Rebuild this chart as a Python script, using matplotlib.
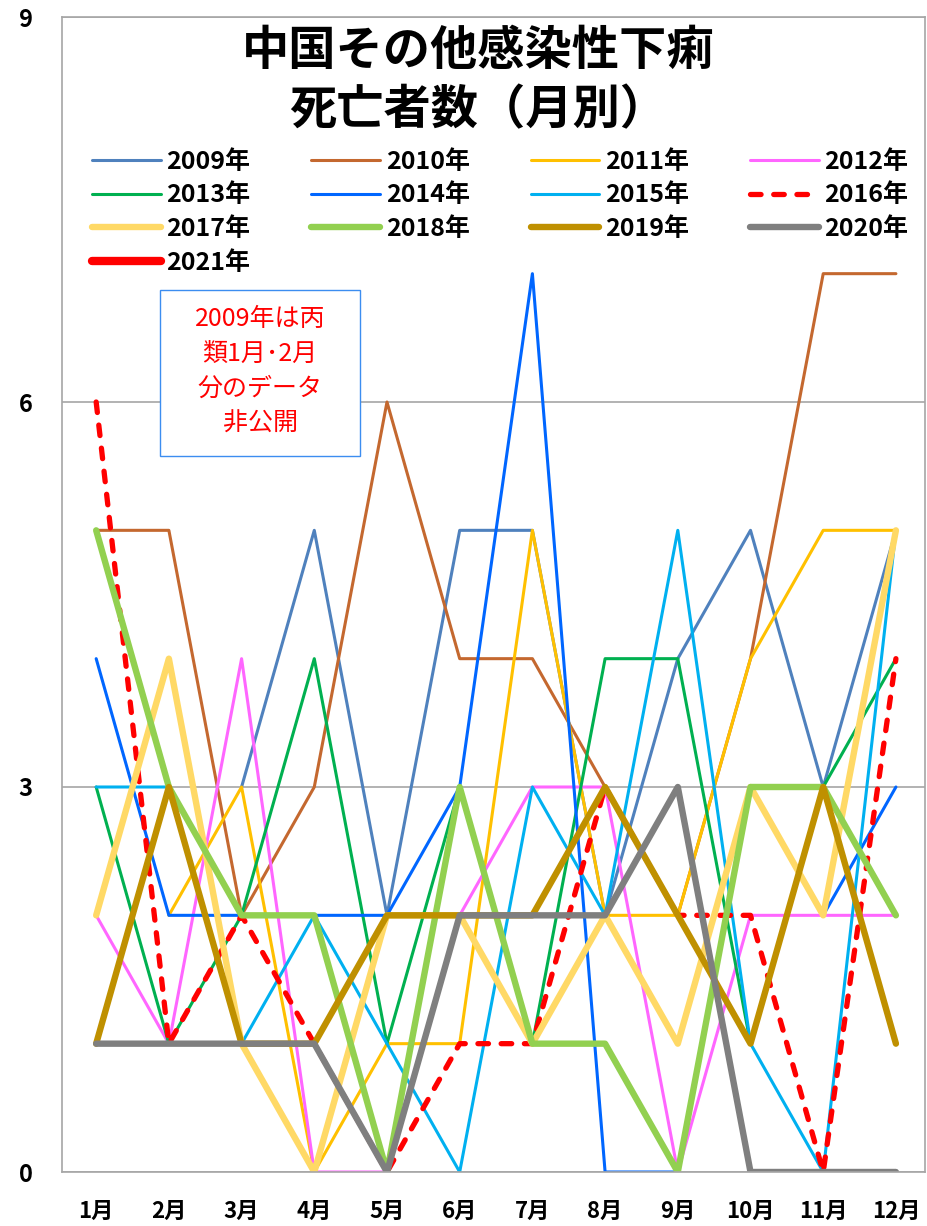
import numpy as np
import matplotlib
matplotlib.use("Agg")
import matplotlib.pyplot as plt
from matplotlib.patches import Rectangle

plt.rcParams['font.family'] = ['Noto Sans CJK JP', 'DejaVu Sans']

nan = np.nan
months = ['1月', '2月', '3月', '4月', '5月', '6月', '7月', '8月', '9月', '10月', '11月', '12月']

d2009 = [nan, nan, 3, 5, 2, 5, 5, 2, 4, 5, 3, 5]
d2010 = [5, 5, 2, 3, 6, 4, 4, 3, 2, 4, 7, 7]
d2011 = [nan, 2, 3, 0, 1, 1, 5, 2, 2, 4, 5, 5]
d2012 = [2, 1, 4, 0, 0, 2, 3, 3, 0, 2, 2, 2]
d2013 = [3, 1, 2, 4, 1, 3, 1, 4, 4, 1, 3, 4]
d2014 = [4, 2, 2, 2, 2, 3, 7, 0, 0, nan, 2, 3]
d2015 = [3, 3, 1, 2, 1, 0, 3, 2, 5, 1, 0, 5]
d2016 = [6, 1, 2, 1, 0, 1, 1, 3, 2, 2, 0, 4]
d2017 = [2, 4, 1, 0, 2, 2, 1, 2, 1, 3, 2, 5]
d2018 = [5, 3, 2, 2, 0, 3, 1, 1, 0, 3, 3, 2]
d2019 = [1, 3, 1, 1, 2, 2, 2, 3, 2, 1, 3, 1]
d2020 = [1, 1, 1, 1, 0, 2, 2, 2, 3, 0, 0, 0]
d2021 = [nan] * 12

series = [
    ('2009年', d2009, '#4F81BD', 2.2, '-'),
    ('2010年', d2010, '#C4682F', 2.2, '-'),
    ('2011年', d2011, '#FFC000', 2.2, '-'),
    ('2012年', d2012, '#FF66FF', 2.2, '-'),
    ('2013年', d2013, '#00B050', 2.2, '-'),
    ('2014年', d2014, '#0066FF', 2.2, '-'),
    ('2015年', d2015, '#00B0F0', 2.2, '-'),
    ('2016年', d2016, '#FF0000', 3.8, '--'),
    ('2017年', d2017, '#FFD966', 4.6, '-'),
    ('2018年', d2018, '#92D050', 4.6, '-'),
    ('2019年', d2019, '#BF9000', 4.6, '-'),
    ('2020年', d2020, '#7F7F7F', 4.6, '-'),
    ('2021年', d2021, '#FF0000', 6.0, '-'),
]

fig = plt.figure(figsize=(9.27, 12.26), dpi=100)
ax = fig.add_axes([62 / 927, 54 / 1226, 863 / 927, 1155 / 1226])

x = np.arange(1, 13)
handles = {}
for name, vals, col, lw, ls in series:
    kw = dict(color=col, lw=lw, solid_joinstyle='round', solid_capstyle='round')
    if ls == '--':
        kw.update(dashes=(2.0, 2.4), dash_capstyle='round', dash_joinstyle='round')
    line, = ax.plot(x, vals, label=name, **kw)
    handles[name] = line

ax.set_xlim(0.53, 12.4)
ax.set_ylim(0, 9)
ax.set_yticks([0, 3, 6, 9])
ax.set_xticks(x)
ax.set_xticklabels(months, fontsize=16, fontweight='bold')
for lab in ax.get_yticklabels():
    lab.set_fontsize(17)
    lab.set_fontweight('bold')
ax.tick_params(axis='both', length=0)
ax.tick_params(axis='y', pad=21)
ax.tick_params(axis='x', pad=20)
ax.grid(axis='y', color='#A6A6A6', lw=1.2)
ax.set_axisbelow(True)
for sp in ax.spines.values():
    sp.set_color('#A6A6A6')
    sp.set_linewidth(1.2)

# title
fig.text(478 / 927, 1 - 81 / 1226, '中国その他感染性下痢\n死亡者数（月別）',
         ha='center', va='center', fontsize=34, fontweight='bold', linespacing=1.3)

# legend (row-major order in 4 columns)
order = ['2009年', '2013年', '2017年', '2021年',
         '2010年', '2014年', '2018年',
         '2011年', '2015年', '2019年',
         '2012年', '2016年', '2020年']
leg = ax.legend([handles[n] for n in order], order, ncol=4, frameon=False,
                loc='upper left', bbox_to_anchor=(92 / 927, 1 - 150 / 1226),
                bbox_transform=fig.transFigure, borderpad=0, borderaxespad=0,
                handlelength=2.75, handletextpad=0.22, columnspacing=2.44,
                labelspacing=0.38, prop={'weight': 'bold', 'size': 18})

# note box
ax.add_patch(Rectangle((160 / 927, 1 - 456 / 1226), 200 / 927, 166 / 1226,
                       transform=fig.transFigure, fill=True, fc='white',
                       ec='#3C8DF0', lw=1.0, zorder=20))
fig.text(260 / 927, 1 - 371 / 1226, '2009年は丙\n類1月･2月\n分のデータ\n非公開',
         ha='center', va='center', color='#FF0000', fontsize=18, linespacing=1.45,
         zorder=21)

fig.savefig('out.png', dpi=100)
